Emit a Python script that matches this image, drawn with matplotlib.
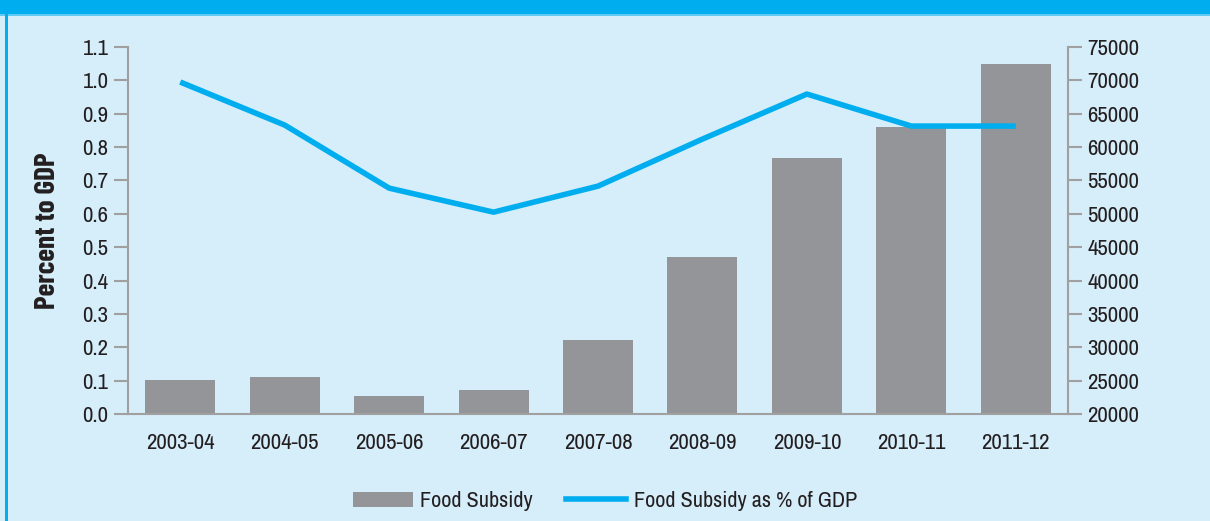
import matplotlib.pyplot as plt
from matplotlib.patches import Rectangle
from matplotlib.lines import Line2D

plt.rcParams['font.family'] = ['Archivo Narrow', 'Liberation Sans', 'DejaVu Sans']

years = ['2003-04', '2004-05', '2005-06', '2006-07', '2007-08',
         '2008-09', '2009-10', '2010-11', '2011-12']
subsidy = [25100, 25500, 22700, 23600, 31100, 43600, 58300, 63000, 72500]
pct_gdp = [0.995, 0.866, 0.677, 0.605, 0.683, 0.824, 0.959, 0.863, 0.863]

bg = '#d6edfa'
blue = '#00aeef'
grey = '#939598'
axis_grey = '#a0a0a0'
txt = '#231f20'
fs = 16.5

fig = plt.figure(figsize=(12.1, 5.21), dpi=100, facecolor=bg)

# header strip and left border of the box
fig.patches.append(Rectangle((0, 1 - 14 / 521), 1, 14 / 521, transform=fig.transFigure,
                             facecolor=blue, edgecolor='none', zorder=0))
fig.patches.append(Rectangle((0, 1 - 16 / 521), 1, 2 / 521, transform=fig.transFigure,
                             facecolor='#5fcbf3', edgecolor='none', zorder=0))
fig.patches.append(Rectangle((5 / 1210, 0), 3 / 1210, 1 - 14 / 521, transform=fig.transFigure,
                             facecolor=blue, edgecolor='none', zorder=0))

ax = fig.add_axes([128 / 1210, 1 - 414 / 521, 940 / 1210, 367 / 521])
ax2 = ax.twinx()
X = list(range(len(years)))

# bars on right axis, line on left axis
ax2.bar(X, subsidy, width=0.67, color=grey, zorder=1, bottom=0)
ax2.set_ylim(20000, 75000)
ax2.set_yticks(range(20000, 75001, 5000))

ax.plot(X, pct_gdp, color=blue, lw=4, solid_capstyle='butt', zorder=3)
ax.set_ylim(0, 1.1)
ax.set_yticks([i / 10 for i in range(12)])
ax.set_yticklabels(['%.1f' % (i / 10) for i in range(12)])
ax.set_xlim(-0.5, 8.5)
ax.set_xticks(X)
ax.set_xticklabels(years)

# line axis on top of bars
ax.set_zorder(ax2.get_zorder() + 1)
ax.patch.set_visible(False)
ax2.patch.set_facecolor('white')

for a in (ax, ax2):
    for s in a.spines.values():
        s.set_visible(False)
ax.spines['left'].set_visible(True)
ax.spines['bottom'].set_visible(True)
ax2.spines['right'].set_visible(True)
for s in (ax.spines['left'], ax.spines['bottom'], ax2.spines['right']):
    s.set_color(axis_grey)
    s.set_linewidth(1.5)

ax.tick_params(axis='y', length=10, width=1.5, color=axis_grey, labelsize=fs,
               labelcolor=txt, pad=4)
ax.tick_params(axis='x', length=0, labelsize=fs, labelcolor=txt, pad=14)
ax2.tick_params(axis='y', length=10, width=1.5, color=axis_grey, labelsize=fs,
                labelcolor=txt, pad=4)

ax.set_ylabel('Percent to GDP', fontsize=21, fontweight='bold', color=txt, labelpad=16,
              family=['Barlow Condensed', 'Liberation Sans', 'DejaVu Sans'])

handles = [Rectangle((0, 0), 1, 1, facecolor=grey, edgecolor='none'),
           Line2D([], [], color=blue, lw=4)]
fig.legend(handles, ['Food Subsidy', 'Food Subsidy as % of GDP'], loc='center',
           bbox_to_anchor=(0.5, 1 - 501 / 521), ncol=2, frameon=False, fontsize=16,
           labelcolor=txt, handlelength=2.7, handleheight=0.65, handletextpad=0.35,
           columnspacing=1.5)

fig.savefig('out.png', dpi=100, facecolor=bg)
